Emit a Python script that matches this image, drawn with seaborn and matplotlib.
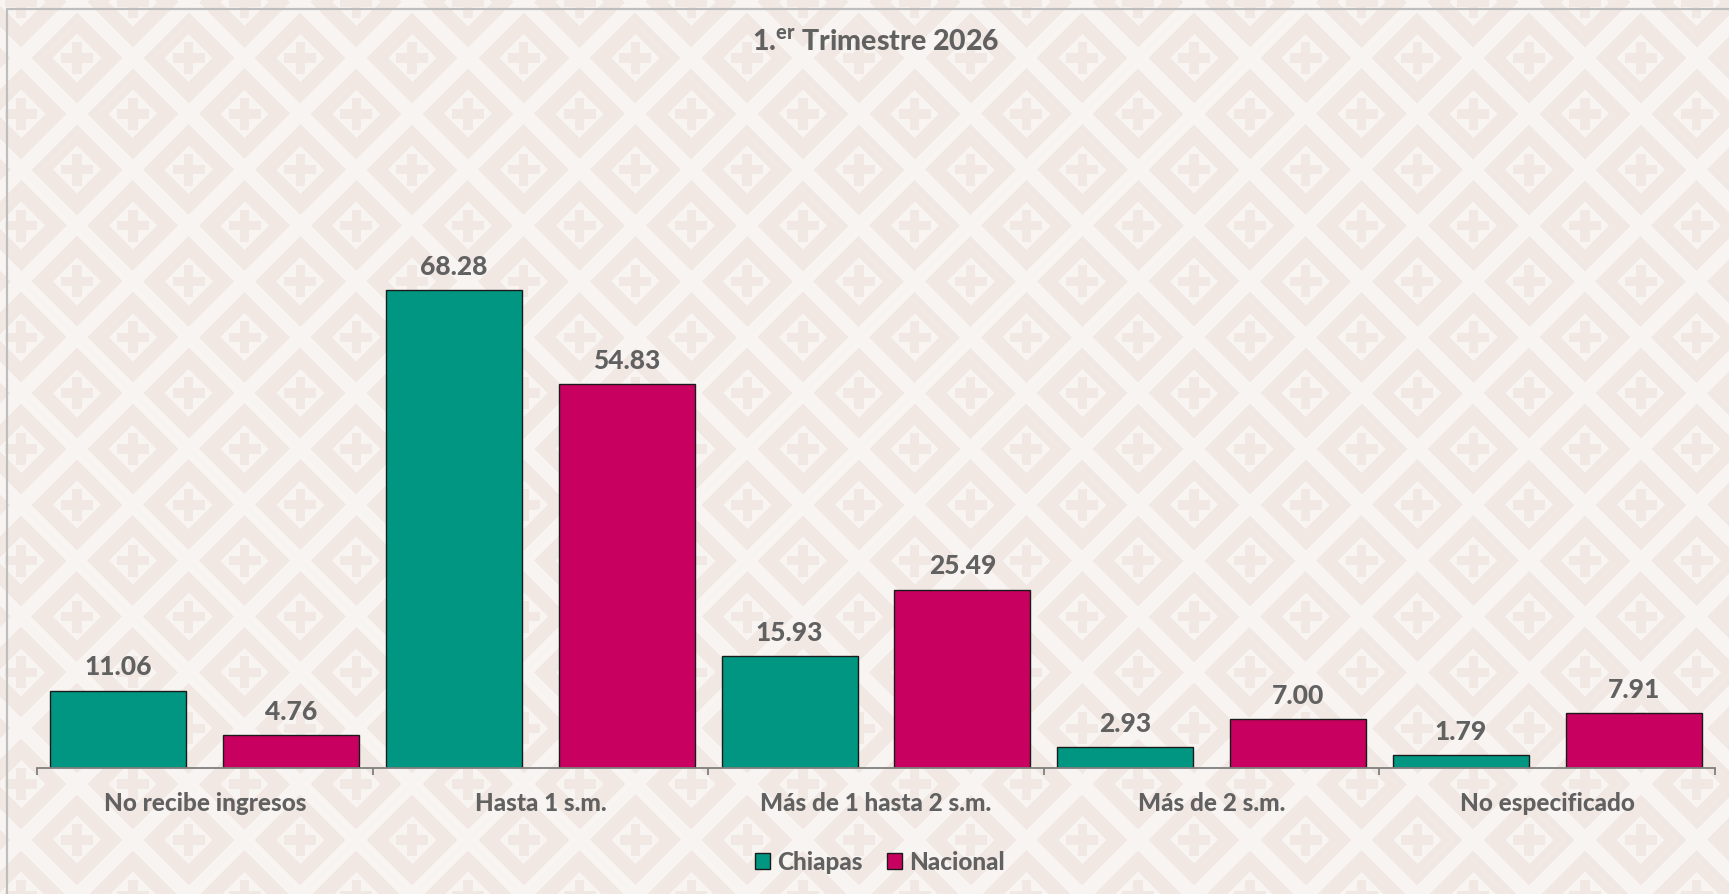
import numpy as np
import pandas as pd
import matplotlib
matplotlib.use("Agg")
import matplotlib.pyplot as plt
from matplotlib.lines import Line2D
import seaborn as sns

# ===============================
# DATA
# ===============================
categories = ["No recibe ingresos", "Hasta 1 s.m.", "Más de 1 hasta 2 s.m.",
              "Más de 2 s.m.", "No especificado"]
chiapas = [11.06, 68.28, 15.93, 2.93, 1.79]
nacional = [4.76, 54.83, 25.49, 7.00, 7.91]
series = ["Chiapas", "Nacional"]
title = r"1.$^{\mathbf{er}}$ Trimestre 2026"

# ===============================
# STYLE
# ===============================
COLORS = ["#009682", "#C8005F"]
TEXT = "#616161"
BG_DARK = np.array([242, 232, 227]) / 255
BG_LIGHT = np.array([248, 244, 241]) / 255
WEIGHT = "black"

sns.set_theme(style="white")
plt.rcParams["font.family"] = ["Lato", "DejaVu Sans"]
plt.rcParams["mathtext.fontset"] = "custom"
plt.rcParams["mathtext.rm"] = "Lato"
plt.rcParams["mathtext.bf"] = "Lato:black"

df = pd.DataFrame({
    "categoria": categories * 2,
    "valor": chiapas + nacional,
    "serie": [series[0]] * len(categories) + [series[1]] * len(categories),
})

W, H = 1729, 894
fig = plt.figure(figsize=(W / 100, H / 100), dpi=100)

# ===============================
# BACKGROUND TEXTURE (diamonds with crosses)
# ===============================
P = 111.7
xx, yy = np.meshgrid(np.arange(W) + 0.5, np.arange(H) + 0.5)
dx, dy = xx - 77, yy - 58
u, v = dx + dy, dx - dy
du = np.mod(u + P / 2, P) - P / 2
dv = np.mod(v + P / 2, P) - P / 2
d = np.maximum(np.abs(du), np.abs(dv))
lx, ly = (du + dv) / 2, (du - dv) / 2
cross = ((np.abs(lx) < 4.7) & (np.abs(ly) < 16)) | ((np.abs(ly) < 4.7) & (np.abs(lx) < 16))
dark = ((d > 24) & (d < 45.5)) | cross
tex = np.where(dark[..., None], BG_DARK, BG_LIGHT)

bg = fig.add_axes([0, 0, 1, 1], zorder=-10)
bg.imshow(tex, aspect="auto", extent=[0, 1, 0, 1], interpolation="nearest")
bg.set_axis_off()

# frame lines (top and left)
fig.add_artist(Line2D([7 / W, 1], [1 - 9 / H, 1 - 9 / H], color="#BEBEBE", lw=1.6,
                      transform=fig.transFigure))
fig.add_artist(Line2D([7 / W, 7 / W], [0, 1 - 9 / H], color="#BEBEBE", lw=1.6,
                      transform=fig.transFigure))

# ===============================
# BAR CHART
# ===============================
ax = fig.add_axes([37 / W, 126 / H, 1678 / W, 560 / H])
ax.set_facecolor("none")
sns.barplot(data=df, x="categoria", y="valor", hue="serie", palette=COLORS,
            width=1.03, gap=0.213, edgecolor="#1a1a1a", linewidth=1.0,
            saturation=1, ax=ax)

ax.set_xlim(-0.5, len(categories) - 0.5)
ax.set_ylim(0, 80)
ax.set_xlabel("")
ax.set_ylabel("")
ax.set_yticks([])
for s in ["top", "right", "left"]:
    ax.spines[s].set_visible(False)
ax.spines["bottom"].set_color("#7F7F7F")
ax.spines["bottom"].set_linewidth(1.3)

ax.set_xticks(np.arange(len(categories) + 1) - 0.5)
ax.set_xticklabels([])
ax.tick_params(axis="x", which="major", length=5, width=1.3, color="#7F7F7F",
               direction="out", bottom=True)
ax.set_xticks(np.arange(len(categories)), minor=True)
ax.set_xticklabels(categories, minor=True, fontsize=17.5, fontweight=WEIGHT, color=TEXT)
ax.tick_params(axis="x", which="minor", length=0, pad=17)

for cont in ax.containers:
    ax.bar_label(cont, fmt="%.2f", padding=8, fontsize=19, fontweight=WEIGHT, color=TEXT)

handles, labels = ax.get_legend_handles_labels()
ax.legend(handles, labels, loc="center", bbox_to_anchor=(880 / W, 1 - 862 / H),
          bbox_transform=fig.transFigure, ncol=2, frameon=False,
          handlelength=0.6, handleheight=0.6, handletextpad=0.3, columnspacing=1.0,
          labelcolor=TEXT, prop={"family": "Lato", "weight": WEIGHT, "size": 17.5})

fig.text(876 / W, 1 - 42 / H, title, ha="center", va="center", fontsize=20.5,
         fontweight=WEIGHT, color=TEXT)

fig.savefig("out.png", dpi=100)
